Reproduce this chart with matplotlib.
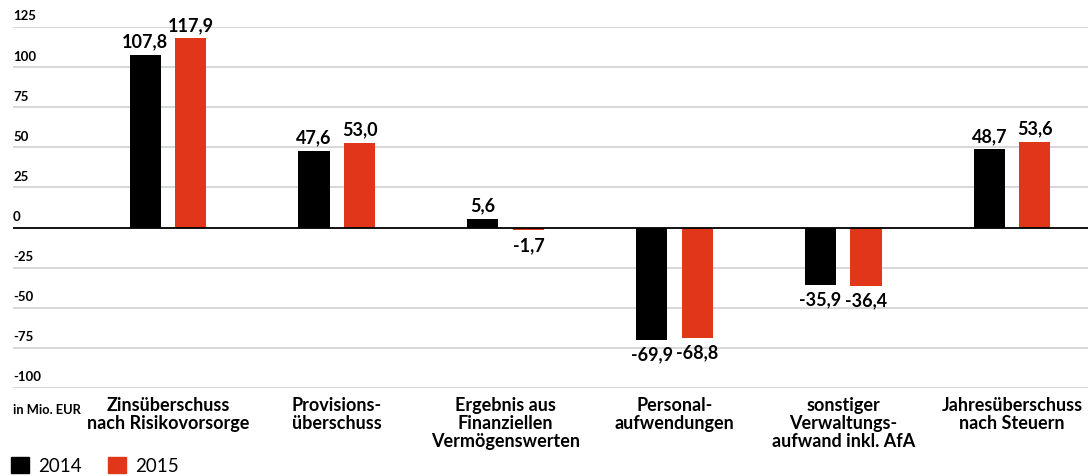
import matplotlib
matplotlib.use("Agg")
import matplotlib.pyplot as plt
import matplotlib.transforms as mtransforms
from matplotlib.patches import Patch

categories = ["Zinsüberschuss\nnach Risikovorsorge", "Provisions-\nüberschuss",
              "Ergebnis aus\nFinanziellen\nVermögenswerten", "Personal-\naufwendungen",
              "sonstiger\nVerwaltungs-\naufwand inkl. AfA", "Jahresüberschuss\nnach Steuern"]
values_2014 = [107.8, 47.6, 5.6, -69.9, -35.9, 48.7]
values_2015 = [117.9, 53.0, -1.7, -68.8, -36.4, 53.6]
series_names = ["2014", "2015"]
yticks = [125, 100, 75, 50, 25, 0, -25, -50, -75, -100]

BLACK = "#000000"
RED = "#e2361a"
FONT = ["Lato", "DejaVu Sans"]
plt.rcParams['font.family'] = FONT

fig = plt.figure(figsize=(10.88, 4.77), dpi=100)
W, H = 1088, 477
ax = fig.add_axes([13 / W, 1 - 389 / H, 1 - 13 / W, (389 - 28) / H])

x = list(range(len(categories)))
off = 0.135
bw = 0.184
ax.set_xlim(-0.918, 5.45)
ax.set_ylim(-100, 125)

# gridlines
for t in yticks:
    if t == 0:
        continue
    ax.axhline(t, color="#d4d4d4", lw=1.3, zorder=0)
ax.axhline(0, color="#000000", lw=1.3, zorder=3)

b1 = ax.bar([i - off for i in x], values_2014, width=bw, color=BLACK, zorder=2)
b2 = ax.bar([i + off for i in x], values_2015, width=bw, color=RED, zorder=2)

def fmt(v):
    return f"{v:.1f}".replace(".", ",")

for bars, vals in ((b1, values_2014), (b2, values_2015)):
    for rect, v in zip(bars, vals):
        cx = rect.get_x() + rect.get_width() / 2
        if v >= 0:
            ax.annotate(fmt(v), (cx, v), xytext=(0, 4), textcoords="offset points",
                        ha="center", va="bottom", fontsize=13, fontweight="bold")
        else:
            ax.annotate(fmt(v), (cx, v), xytext=(0, -4), textcoords="offset points",
                        ha="center", va="top", fontsize=13, fontweight="bold")

# y tick labels above gridlines
trans_y = mtransforms.blended_transform_factory(ax.transAxes, ax.transData)
for t in yticks:
    ax.annotate(str(t), (0, t), xycoords=trans_y, xytext=(0, 4), textcoords="offset points",
                ha="left", va="bottom", fontsize=9.5, fontweight="bold")

# category labels
trans_x = mtransforms.blended_transform_factory(ax.transData, ax.transAxes)
for i, c in zip(x, categories):
    ax.annotate(c, (i, 0), xycoords=trans_x, xytext=(0, -6), textcoords="offset points",
                ha="center", va="top", fontsize=13, fontweight="bold", linespacing=1.05)

fig.text(13 / W, 1 - 410 / H, "in Mio. EUR", ha="left", va="center", fontsize=9.3,
         fontweight="bold")

for s in ax.spines.values():
    s.set_visible(False)
ax.set_xticks([])
ax.set_yticks([])

handles = [Patch(color=BLACK, label=series_names[0]), Patch(color=RED, label=series_names[1])]
fig.legend(handles=handles, loc="lower left", bbox_to_anchor=(13 / W - 0.009, -0.012), ncol=2,
           frameon=False, fontsize=13.5, handlelength=0.95, handleheight=0.95,
           handletextpad=0.5, columnspacing=1.4, borderaxespad=0)

fig.savefig("out.png", dpi=100)
